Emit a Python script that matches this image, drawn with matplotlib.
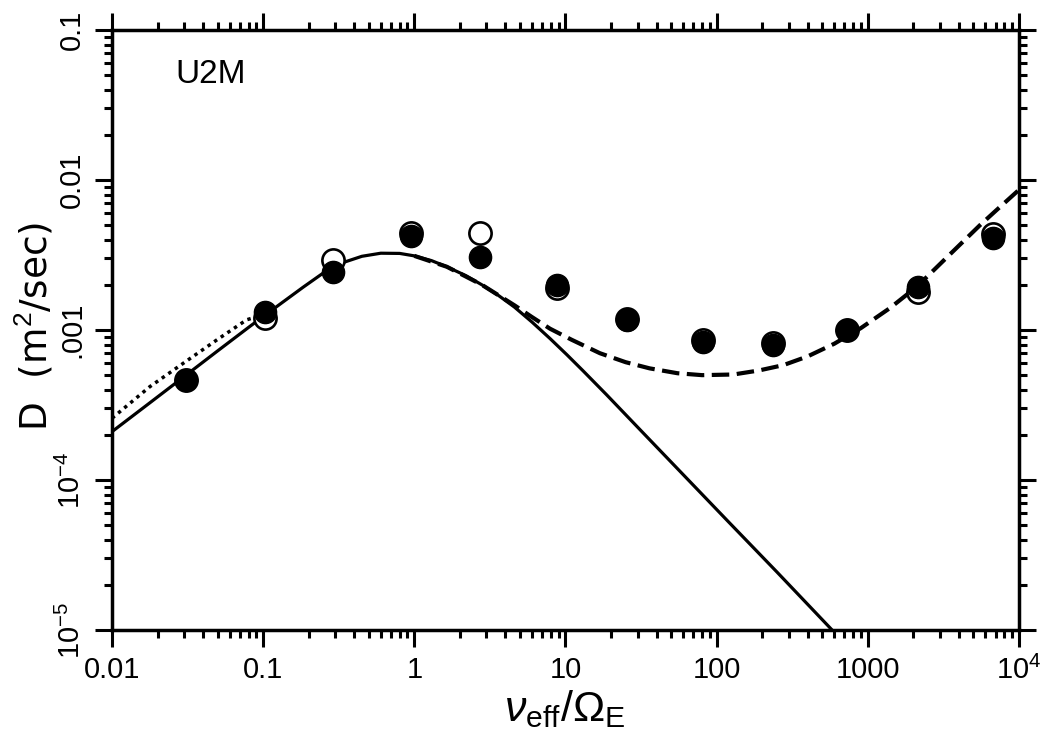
import matplotlib
matplotlib.use("Agg")
import matplotlib.pyplot as plt
from matplotlib.ticker import FixedLocator, FixedFormatter, LogLocator, NullFormatter

plt.rcParams["font.family"] = ["Liberation Sans", "DejaVu Sans"]
plt.rcParams["mathtext.fontset"] = "custom"
plt.rcParams["mathtext.rm"] = "Liberation Sans"
plt.rcParams["mathtext.it"] = "Liberation Sans:italic"
plt.rcParams["mathtext.bf"] = "Liberation Sans:bold"

# ── Monte Carlo results (nu_eff / Omega_E  vs  D) ─────────────
nu_mc    = [0.031, 0.103, 0.29, 0.95, 2.72, 8.75, 25.4, 81.6, 237, 724, 2158, 6700]
d_filled = [4.64e-4, 1.32e-3, 2.45e-3, 4.23e-3, 3.05e-3, 2.0e-3, 1.17e-3,
            8.36e-4, 7.94e-4, 1.0e-3, 1.93e-3, 4.09e-3]
d_open   = [4.64e-4, 1.2e-3, 2.93e-3, 4.4e-3, 4.41e-3, 1.9e-3, 1.19e-3,
            8.58e-4, 8.2e-4, 1.0e-3, 1.8e-3, 4.36e-3]

# ── Analytic curves ───────────────────────────────────────────
# xi = 1 curve (solid)
nu_xi1 = [0.01, 0.0178, 0.0296, 0.0493, 0.0818, 0.1, 0.184, 0.25, 0.35, 0.45,
          0.6, 0.8, 1.0, 1.3, 1.64, 2.2, 2.8, 3.6, 4.6, 6.0, 7.9, 10.2, 13.1,
          18.7, 30, 60, 120, 250, 580]
d_xi1  = [2.1e-4, 3.27e-4, 4.84e-4, 7.18e-4, 1.058e-3, 1.23e-3, 1.93e-3, 2.4e-3,
          2.85e-3, 3.1e-3, 3.25e-3, 3.24e-3, 3.12e-3, 2.9e-3, 2.64e-3, 2.3e-3,
          2.0e-3, 1.7e-3, 1.42e-3, 1.13e-3, 8.77e-4, 6.85e-4, 5.33e-4, 3.7e-4,
          2.25e-4, 1.087e-4, 5.25e-5, 2.44e-5, 1.0e-5]

# low-collisionality branch (dotted)
nu_dot = [0.01, 0.0178, 0.0296, 0.0493, 0.0778, 0.1]
d_dot  = [2.58e-4, 4.19e-4, 6.0e-4, 8.58e-4, 1.17e-3, 1.26e-3]

# xi = 1 curve plus symmetric contribution (broken)
nu_sum = [1.0, 1.64, 2.8, 4.6, 6.0, 7.9, 11.0, 16.9, 25, 36, 55, 80, 129, 190,
          276, 400, 600, 900, 1400, 2104, 3500, 5520, 7100, 10000]
d_sum  = [3.12e-3, 2.64e-3, 2.0e-3, 1.46e-3, 1.22e-3, 1.02e-3, 8.6e-4, 7.0e-4,
          6.1e-4, 5.55e-4, 5.15e-4, 5.0e-4, 5.05e-4, 5.37e-4, 5.83e-4, 6.67e-4,
          8.1e-4, 1.03e-3, 1.4e-3, 1.94e-3, 3.2e-3, 5.0e-3, 6.3e-3, 8.6e-3]

# ── Tick labels ───────────────────────────────────────────────
x_ticks  = [0.01, 0.1, 1, 10, 100, 1000, 1e4]
x_labels = ["0.01", "0.1", "1", "10", "100", "1000", r"$10^4$"]
y_ticks  = [1e-5, 1e-4, 1e-3, 1e-2, 0.1]
y_labels = [r"$10^{-5}$", r"$10^{-4}$", ".001", "0.01", "0.1"]

fig = plt.figure(figsize=(10.43, 7.43), dpi=100)
ax = fig.add_axes([0.10738, 0.15209, 0.86961, 0.80754])

ax.plot(nu_xi1, d_xi1, color="black", lw=2.3, solid_capstyle="butt", zorder=2)
ax.plot(nu_dot, d_dot, color="black", lw=2.5, linestyle=(0, (1, 1.3)), zorder=2)
ax.plot(nu_sum, d_sum, color="black", lw=3.0, linestyle=(0, (4.2, 1.8)), zorder=2)

ax.plot(nu_mc, d_open, "o", ms=16, mfc="white", mec="black", mew=1.9,
        linestyle="none", zorder=3)
ax.plot(nu_mc, d_filled, "o", ms=16, mfc="black", mec="black", mew=1.0,
        linestyle="none", zorder=4)

ax.set_xscale("log")
ax.set_yscale("log")
ax.set_xlim(0.01, 1e4)
ax.set_ylim(1e-5, 0.1)

ax.xaxis.set_major_locator(FixedLocator(x_ticks))
ax.xaxis.set_major_formatter(FixedFormatter(x_labels))
ax.yaxis.set_major_locator(FixedLocator(y_ticks))
ax.yaxis.set_major_formatter(FixedFormatter(y_labels))
for axis in (ax.xaxis, ax.yaxis):
    axis.set_minor_locator(LogLocator(base=10, subs=range(2, 10), numticks=20))
    axis.set_minor_formatter(NullFormatter())

ax.tick_params(which="both", direction="out", top=True, right=True, width=2.2)
ax.tick_params(which="major", length=12.5, labelsize=21)
ax.tick_params(which="minor", length=6)
ax.tick_params(axis="x", which="major", pad=6)
ax.tick_params(axis="y", which="major", pad=6)
for lab in ax.get_yticklabels():
    lab.set_rotation(90)
    lab.set_va("center")

for sp in ax.spines.values():
    sp.set_linewidth(2.5)

ax.text(0.0695, 0.926, "U2M", transform=ax.transAxes, fontsize=24,
        ha="left", va="center")

fig.text(34 / 1043, 1 - 326 / 743, r"D  (m$^2$/sec)", rotation=90,
         fontsize=27, family=["DejaVu Sans"], ha="center", va="center")
fig.text(565 / 1043, 1 - 709 / 743, r"$\nu_{\rm eff}/\Omega_{\rm E}$",
         fontsize=31, ha="center", va="center")

fig.savefig("out.png", dpi=100, facecolor="white")
